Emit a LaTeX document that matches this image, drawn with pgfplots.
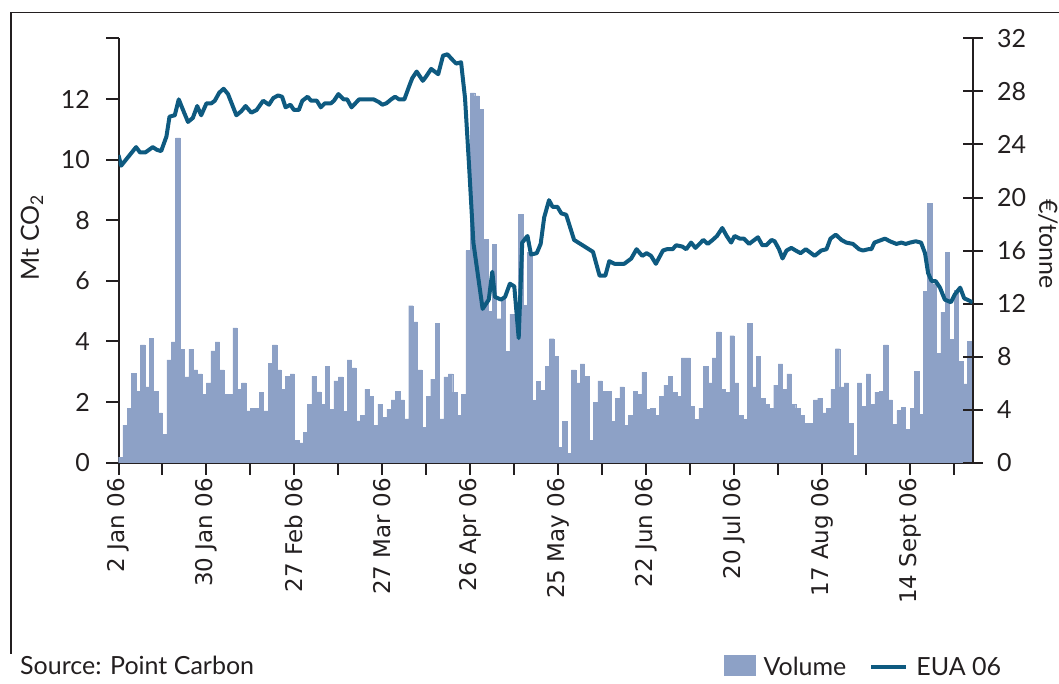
\documentclass[border=0pt]{standalone}
\usepackage{fontspec}
\setmainfont{Lato}
\newfontfamily\dejavu{DejaVu Sans}
\usepackage{pgfplots}
\usepackage{pgfplotstable}
\pgfplotsset{compat=1.18}
\definecolor{barcol}{RGB}{141,161,198}
\definecolor{linecol}{RGB}{14,90,128}
\definecolor{axcol}{RGB}{35,31,32}

\pgfplotstableread{
x y
0.5 0.18
1.5 1.24
2.5 1.8
3.5 2.94
4.5 2.36
5.5 3.89
6.5 2.5
7.5 4.11
8.5 2.36
9.5 1.64
10.5 0.94
11.5 3.39
12.5 3.99
13.5 10.72
14.5 3.75
15.5 2.83
16.5 3.75
17.5 3.06
18.5 2.93
19.5 2.26
20.5 2.63
21.5 3.69
22.5 3.99
23.5 3.06
24.5 2.26
25.5 2.26
26.5 4.45
27.5 2.43
28.5 2.63
29.5 1.71
30.5 1.8
31.5 1.8
32.5 2.33
33.5 1.71
34.5 3.27
35.5 3.89
36.5 3.06
37.5 2.43
38.5 2.86
39.5 2.93
40.5 0.74
41.5 0.65
42.5 1.0
43.5 1.93
44.5 2.86
45.5 2.34
46.5 1.93
47.5 3.19
48.5 1.77
49.5 2.70
50.5 2.83
51.5 1.70
52.5 3.39
53.5 3.13
54.5 1.38
55.5 1.57
56.5 2.43
57.5 2.2
58.5 1.24
59.5 1.93
60.5 1.5
61.5 1.77
62.5 2.07
63.5 2.36
64.5 2.07
65.5 1.45
66.5 5.18
67.5 4.65
68.5 3.06
69.5 1.17
70.5 2.2
71.5 2.76
72.5 4.59
73.5 1.45
74.5 2.83
75.5 2.93
76.5 2.33
77.5 1.57
78.5 2.26
79.5 7.0
80.5 12.2
81.5 12.1
82.5 11.65
83.5 7.37
84.5 5.0
85.5 7.21
86.5 4.75
87.5 5.4
88.5 3.67
89.5 4.9
90.5 4.9
91.5 8.2
92.5 5.2
93.5 6.93
94.5 2.05
95.5 2.68
96.5 2.38
97.5 3.17
98.5 4.09
99.5 3.5
100.5 0.51
101.5 1.37
102.5 0.31
103.5 3.06
104.5 2.63
105.5 3.26
106.5 2.86
107.5 0.74
108.5 2.0
109.5 2.7
110.5 2.36
111.5 2.36
112.5 1.37
113.5 2.13
114.5 2.5
115.5 1.24
116.5 1.57
117.5 2.36
118.5 2.26
119.5 2.99
120.5 1.77
121.5 1.8
122.5 1.57
123.5 2.2
124.5 2.56
125.5 2.86
126.5 2.33
127.5 2.2
128.5 3.46
129.5 3.46
130.5 1.87
131.5 1.44
132.5 1.8
133.5 3.19
134.5 2.63
135.5 3.46
136.5 4.32
137.5 2.43
138.5 2.33
139.5 4.19
140.5 2.63
141.5 1.57
142.5 1.44
143.5 4.59
144.5 2.5
145.5 3.52
146.5 2.13
147.5 1.93
148.5 1.8
149.5 2.56
150.5 3.26
151.5 2.43
152.5 2.93
153.5 1.93
154.5 1.8
155.5 1.57
156.5 1.3
157.5 1.3
158.5 2.07
159.5 2.13
160.5 1.64
161.5 1.8
162.5 2.43
163.5 3.76
164.5 2.5
165.5 2.63
166.5 1.3
167.5 0.24
168.5 2.63
169.5 1.87
170.5 2.93
171.5 1.93
172.5 2.33
173.5 2.36
174.5 3.89
175.5 2.07
176.5 1.26
177.5 1.72
178.5 1.82
179.5 1.1
180.5 1.79
181.5 3.01
182.5 1.59
183.5 5.66
184.5 8.56
185.5 5.9
186.5 3.6
187.5 4.97
188.5 6.95
189.5 4.07
190.5 5.68
191.5 3.35
192.5 2.6
193.5 4.0
}\voltable

\pgfplotstableread{
x y
0.0 23.2
0.6 22.4
4.0 23.8
4.9 23.4
6.1 23.4
7.8 23.8
8.7 23.6
9.7 23.5
10.9 24.6
11.6 26.1
12.8 26.2
13.7 27.4
14.8 26.5
15.8 25.7
16.9 26.0
17.9 26.9
18.8 26.2
20.0 27.1
21.1 27.1
21.9 27.3
22.9 27.9
23.9 28.2
24.9 27.8
26.8 26.2
27.9 26.5
28.9 26.9
30.2 26.4
31.4 26.6
32.9 27.3
34.2 27.0
35.2 27.5
36.3 27.7
37.2 27.6
38.0 26.8
39.1 27.0
39.9 26.6
41.0 26.6
41.8 27.3
43.0 27.6
43.8 27.3
45.1 27.3
46.0 26.8
46.9 27.1
48.3 27.1
49.0 27.3
50.0 27.8
51.2 27.4
52.0 27.4
53.0 26.8
54.7 27.4
56.0 27.4
58.0 27.4
59.2 27.2
60.0 27.0
60.9 27.1
62.0 27.4
62.9 27.6
63.8 27.4
65.0 27.4
66.1 28.4
66.8 29.0
67.8 29.5
69.2 28.8
69.9 29.1
71.1 29.7
72.7 29.3
73.8 30.7
74.8 30.8
75.9 30.4
76.8 30.1
77.9 30.2
78.8 27.5
79.7 22.5
80.7 16.6
82.8 11.6
84.2 12.3
85.0 14.4
85.6 12.5
87.0 12.3
87.9 12.5
89.0 13.5
90.0 13.3
91.0 9.4
91.8 16.6
93.0 17.1
93.8 15.7
95.1 15.8
96.0 16.5
96.8 18.5
97.9 19.8
98.7 19.3
99.8 19.3
100.7 18.8
101.8 18.7
103.6 16.8
106.0 16.3
107.9 15.9
109.4 14.1
110.7 14.1
111.6 15.2
112.8 15.0
115.0 15.0
116.6 15.4
117.8 16.1
119.1 15.6
120.1 15.8
121.1 15.6
122.2 15.0
123.8 16.0
124.7 16.1
126.0 16.1
126.8 16.4
128.2 16.3
129.1 16.1
130.2 16.6
131.2 16.2
133.0 16.8
134.0 16.5
135.1 16.8
136.1 17.1
137.3 17.7
138.3 17.1
139.3 16.6
140.1 17.1
141.3 16.9
142.2 16.9
143.4 16.5
145.4 17.0
146.4 16.4
147.3 16.4
148.5 16.8
149.2 16.7
150.2 16.1
151.0 15.4
151.9 16.0
153.0 16.2
154.0 16.0
155.1 15.8
156.3 16.1
158.3 15.6
159.8 16.0
161.0 16.1
161.9 16.9
163.1 17.2
164.4 16.8
165.5 16.6
167.0 16.5
168.4 16.1
169.3 16.0
170.5 16.1
171.2 16.1
171.9 16.6
174.3 16.9
175.4 16.7
176.9 16.5
178.0 16.6
179.0 16.5
180.0 16.6
181.3 16.7
182.5 16.6
183.4 15.8
184.1 14.3
184.9 13.7
185.8 13.7
186.8 13.2
187.9 12.3
189.3 12.1
190.2 12.7
191.4 13.2
192.3 12.4
193.6 12.2
194.2 12.1
}\pricetable

\begin{document}
\begin{tikzpicture}
\useasboundingbox (0,0) rectangle (1059pt,684pt);
\pgfplotsset{
  common/.style={
    at={(118.5pt,221.3pt)}, anchor=south west,
    scale only axis, width=854pt, height=424.3pt,
    xmin=0, xmax=194.2,
    axis line style={axcol, line width=2pt},
    tick style={axcol, line width=2pt},
    /pgf/number format/assume math mode=true,
    yticklabel style={font=\fontsize{25}{30}\selectfont, text=axcol},
  }
}
\begin{axis}[common,
  ymin=0, ymax=14,
  axis x line*=bottom, axis y line*=left,
  xtick={0,20,...,180},
  xticklabels={2 Jan 06,30 Jan 06,27 Feb 06,27 Mar 06,26 Apr 06,25 May 06,22 Jun 06,20 Jul 06,17 Aug 06,14 Sept 06},
  minor xtick={10,30,...,190},
  ytick={0,2,...,12}, minor ytick={14},
  tick align=outside, major tick length=12pt, minor tick length=12pt,
  xticklabel style={rotate=90, anchor=east, font=\dejavu\fontsize{23}{27}\selectfont, text=axcol},
  yticklabel style={xshift=-13pt},
  ylabel={Mt CO\textsubscript{2}},
  every axis y label/.style={at={(axis description cs:-0.1013,0.531)}, rotate=90, anchor=center,
    font=\fontsize{25}{30}\selectfont, text=axcol},
]
\addplot[ybar, bar width=1, bar shift=0pt, fill=barcol, draw=barcol, line width=0.4pt] table[x=x,y=y] {\voltable};
\end{axis}
\begin{axis}[common,
  ymin=0, ymax=32,
  axis x line=none, axis y line*=right,
  ytick={0,4,...,32},
  tick align=center, major tick length=20pt,
  yticklabel style={xshift=11pt},
  ylabel={€/tonne},
  every axis y label/.style={at={(axis description cs:1.0884,0.515)}, rotate=-90, anchor=center,
    font=\fontsize{25}{30}\selectfont, text=axcol},
  legend style={at={(axis description cs:0.709,-0.5055)}, anchor=south west, draw=none, fill=none,
    inner sep=0pt, font=\fontsize{25}{30}\selectfont, text=axcol,
    nodes={inner sep=0pt},
    /tikz/every odd column/.append style={column sep=8pt},
    /tikz/every even column/.append style={column sep=23pt}},
  legend columns=-1,
]
\addlegendimage{legend image code/.code={\fill[barcol] (0pt,-8pt) rectangle (31pt,12pt);}}
\addlegendentry{Volume}
\addplot[linecol, line width=4pt, line join=round,
  legend image code/.code={\draw[linecol, line width=4pt] (0pt,0pt)--(35pt,0pt);}] table[x=x,y=y] {\pricetable};
\addlegendentry{EUA 06}
\end{axis}
\draw[axcol, line width=1.5pt] (11pt,30pt) -- (11pt,671.3pt) -- (1070pt,671.3pt);
\node[anchor=base west, inner sep=0pt, font=\fontsize{25}{30}\selectfont, text=axcol] at (20pt,9pt) {Source: Point Carbon};
\end{tikzpicture}
\end{document}
